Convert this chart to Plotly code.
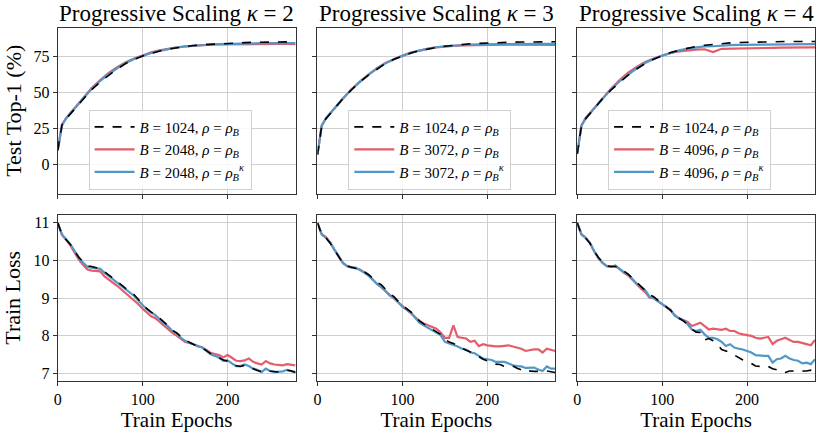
import plotly.graph_objects as go
from plotly.subplots import make_subplots

# epochs at which test accuracy / train loss were logged
acc_epochs = [0, 5] + list(range(10, 281, 10))
loss_epochs = list(range(0, 281, 5))

kappas = [2, 3, 4]
big_batches = [2048, 3072, 4096]

# test top-1 accuracy (%)
acc_k2_base = [10, 27.5, 32, 39, 46, 52.2, 57.5, 62.3, 66.5, 70.3, 73.2, 75.5, 77.5, 79, 80.3, 81.3, 82.1, 82.8, 83.3, 83.7, 84.1, 84.4, 84.6, 84.8, 85, 85.1, 85.2, 85.3, 85.3, 85.4]
acc_k2_rhoB = [10, 27.8, 32.5, 39.5, 47, 53.3, 58.8, 63.8, 67.8, 71.2, 73.8, 76, 78, 79.4, 80.6, 81.5, 82.2, 82.7, 83.1, 83.4, 83.6, 83.7, 83.8, 83.8, 83.9, 83.9, 83.8, 83.9, 83.9, 83.8]
acc_k2_rhoBk = [10, 27.6, 32.2, 39.2, 46.5, 52.8, 58.2, 63, 67, 70.6, 73.4, 75.6, 77.6, 79.1, 80.4, 81.4, 82.1, 82.7, 83.2, 83.5, 83.8, 84, 84.1, 84.2, 84.3, 84.4, 84.4, 84.5, 84.5, 84.5]

acc_k3_base = [7, 27, 32, 39, 46, 52, 57.5, 62.2, 66.5, 70.3, 73.2, 75.5, 77.6, 79.2, 80.5, 81.5, 82.3, 83, 83.5, 84, 84.3, 84.6, 84.8, 85, 85.1, 85.2, 85.3, 85.4, 85.4, 85.4]
acc_k3_rhoB = [7, 27.2, 32.3, 39.3, 46.3, 52.5, 58, 62.8, 67, 70.6, 73.4, 75.8, 77.9, 79.4, 80.6, 81.5, 82.2, 82.6, 82.9, 83.1, 83.2, 83.3, 83.3, 83.4, 83.4, 83.4, 83.4, 83.4, 83.3, 83.3]
acc_k3_rhoBk = [7, 27.1, 32.2, 39.2, 46.2, 52.3, 57.8, 62.6, 66.8, 70.4, 73.3, 75.6, 77.7, 79.3, 80.6, 81.6, 82.3, 82.8, 83.2, 83.4, 83.6, 83.7, 83.8, 83.8, 83.9, 83.9, 83.9, 84, 84, 84]

acc_k4_base = [7.5, 27, 32, 39, 46, 52, 57.5, 62.3, 66.5, 70.3, 73.3, 75.7, 77.9, 79.6, 81, 82.1, 83, 83.7, 84.2, 84.6, 84.9, 85.1, 85.3, 85.4, 85.5, 85.5, 85.6, 85.6, 85.6, 85.6]
acc_k4_rhoB = [7.5, 27.3, 32.5, 39.5, 46.5, 53, 58.8, 64, 68, 71.3, 73.8, 75.9, 77.6, 78.7, 79.4, 79.9, 80.2, 78.2, 80.5, 80.7, 80.8, 80.9, 81, 81.1, 81.2, 81.3, 81.3, 81.4, 81.4, 81.5]
acc_k4_rhoBk = [7.5, 27.1, 32.2, 39.2, 46.3, 52.5, 58, 62.8, 67, 70.6, 73.5, 75.8, 77.8, 79.4, 80.6, 81.5, 82.2, 82.3, 82.9, 83.1, 83.3, 83.4, 83.5, 83.6, 83.6, 83.7, 83.7, 83.8, 83.8, 83.8]

# train loss
loss_k2_base = [11.0, 10.68, 10.55, 10.42, 10.24, 10.08, 9.96, 9.86, 9.84, 9.81, 9.78, 9.70, 9.62, 9.53, 9.45, 9.35, 9.25, 9.17, 9.09, 8.96, 8.84, 8.72, 8.63, 8.57, 8.47, 8.38, 8.27, 8.15, 8.08, 7.98, 7.90, 7.83, 7.77, 7.73, 7.68, 7.61, 7.53, 7.48, 7.42, 7.36, 7.33, 7.27, 7.21, 7.19, 7.22, 7.18, 7.12, 7.08, 7.05, 7.10, 7.07, 7.05, 7.04, 7.06, 7.09, 7.07, 7.03]
loss_k2_rhoB = [11.0, 10.68, 10.54, 10.40, 10.20, 10.02, 9.88, 9.76, 9.73, 9.72, 9.71, 9.58, 9.50, 9.40, 9.33, 9.23, 9.13, 9.05, 8.95, 8.84, 8.72, 8.62, 8.52, 8.47, 8.37, 8.27, 8.18, 8.08, 8.01, 7.93, 7.84, 7.81, 7.78, 7.72, 7.70, 7.63, 7.55, 7.52, 7.49, 7.43, 7.49, 7.42, 7.34, 7.33, 7.35, 7.40, 7.31, 7.27, 7.24, 7.33, 7.27, 7.24, 7.22, 7.22, 7.25, 7.24, 7.22]
loss_k2_rhoBk = [11.0, 10.69, 10.56, 10.43, 10.25, 10.07, 9.94, 9.83, 9.81, 9.80, 9.78, 9.68, 9.59, 9.50, 9.43, 9.32, 9.23, 9.15, 9.06, 8.93, 8.82, 8.70, 8.62, 8.55, 8.44, 8.35, 8.25, 8.13, 8.07, 7.95, 7.87, 7.82, 7.78, 7.73, 7.69, 7.60, 7.51, 7.47, 7.42, 7.34, 7.35, 7.27, 7.20, 7.20, 7.24, 7.20, 7.13, 7.10, 7.04, 7.13, 7.07, 7.04, 7.04, 7.06, 7.10, 7.07, 7.04]

loss_k3_base = [11.0, 10.69, 10.60, 10.46, 10.28, 10.10, 9.93, 9.85, 9.82, 9.81, 9.76, 9.70, 9.63, 9.53, 9.42, 9.36, 9.25, 9.12, 9.04, 8.92, 8.80, 8.72, 8.64, 8.52, 8.40, 8.32, 8.25, 8.18, 8.12, 8.04, 7.91, 7.84, 7.80, 7.73, 7.67, 7.62, 7.58, 7.53, 7.45, 7.38, 7.34, 7.30, 7.25, 7.24, 7.19, 7.21, 7.20, 7.14, 7.10, 7.03, 7.07, 7.06, 7.05, 7.06, 7.07, 7.05, 7.03]
loss_k3_rhoB = [11.0, 10.70, 10.62, 10.48, 10.28, 10.10, 9.93, 9.85, 9.82, 9.81, 9.76, 9.69, 9.61, 9.49, 9.39, 9.30, 9.20, 9.08, 9.00, 8.88, 8.78, 8.70, 8.60, 8.50,
                8.40, 8.33, 8.28, 8.24, 8.19, 8.09, 7.95, 7.95, 8.28, 7.97, 7.95, 7.93, 7.84, 7.87, 7.73, 7.78, 7.75, 7.73, 7.72, 7.72, 7.73, 7.75, 7.72, 7.69, 7.66, 7.60, 7.63, 7.64, 7.64, 7.56, 7.66, 7.63, 7.60]
loss_k3_rhoBk = [11.0, 10.69, 10.60, 10.47, 10.29, 10.12, 9.94, 9.85, 9.81, 9.81, 9.75, 9.68, 9.60, 9.50, 9.37, 9.30, 9.19, 9.07, 9.01, 8.88, 8.77, 8.70, 8.62, 8.48, 8.35, 8.28, 8.22, 8.16, 8.09, 8.02, 7.84, 7.80, 7.77, 7.72, 7.66, 7.64, 7.56, 7.54, 7.47, 7.40, 7.38, 7.36, 7.31, 7.31, 7.31, 7.27, 7.22, 7.20, 7.19, 7.15, 7.16, 7.16, 7.11, 7.07, 7.19, 7.13, 7.13]

loss_k4_base = [11.0, 10.69, 10.59, 10.46, 10.25, 10.08, 9.95, 9.86, 9.84, 9.84, 9.79, 9.71, 9.64, 9.53, 9.42, 9.32, 9.22, 9.10, 9.04, 8.94, 8.85, 8.77, 8.68, 8.54, 8.48, 8.40, 8.30, 8.18, 8.10, 8.09, 7.89, 7.93, 7.87, 7.78, 7.64, 7.60, 7.56, 7.49, 7.42, 7.36, 7.31, 7.27, 7.20, 7.19, 7.22, 7.19, 7.13, 7.10, 7.03, 7.03, 7.07, 7.07, 7.04, 7.07, 7.07, 7.09, 7.03]
loss_k4_rhoB = [11.0, 10.70, 10.60, 10.46, 10.24, 10.06, 9.93, 9.85, 9.84, 9.85, 9.77, 9.67, 9.60, 9.48, 9.38, 9.26, 9.16, 9.02, 9.00, 8.92, 8.83, 8.75, 8.68, 8.55,
                8.46, 8.42, 8.37, 8.26, 8.31, 8.35, 8.26, 8.17, 8.19, 8.17, 8.16, 8.19, 8.13, 8.13, 8.07, 8.04, 8.02, 8.00, 7.95, 7.93, 7.95, 7.97, 7.78, 7.87, 7.91, 7.95, 7.89, 7.84, 7.84, 7.82, 7.78, 7.75, 7.89]
loss_k4_rhoBk = [11.0, 10.69, 10.60, 10.47, 10.25, 10.07, 9.94, 9.85, 9.83, 9.87, 9.78, 9.69, 9.63, 9.50, 9.39, 9.30, 9.22, 9.04, 9.01, 8.92, 8.84, 8.77, 8.69, 8.53, 8.48, 8.41, 8.31, 8.17, 8.13, 8.16, 8.04, 7.95, 7.95, 7.91, 7.84, 7.73, 7.78, 7.69, 7.66, 7.64, 7.60, 7.56, 7.49, 7.47, 7.47, 7.47, 7.29, 7.38, 7.40, 7.47, 7.40, 7.36, 7.34, 7.27, 7.29, 7.25, 7.38]

acc = [
    (acc_k2_base, acc_k2_rhoB, acc_k2_rhoBk),
    (acc_k3_base, acc_k3_rhoB, acc_k3_rhoBk),
    (acc_k4_base, acc_k4_rhoB, acc_k4_rhoBk),
]
loss = [
    (loss_k2_base, loss_k2_rhoB, loss_k2_rhoBk),
    (loss_k3_base, loss_k3_rhoB, loss_k3_rhoBk),
    (loss_k4_base, loss_k4_rhoB, loss_k4_rhoBk),
]

FONT = "Liberation Serif"
RED = "#E35D6A"
BLUE = "#5198C8"

W, H = 822, 435
xdom = [(54, 293), (315, 554), (576, 815)]
ydom_top = (28, 194)
ydom_bot = (215, 382)

fig = make_subplots(rows=2, cols=3)

for c in range(3):
    names = [
        "<i>B</i> = 1024, <i>ρ</i> = <i>ρ<sub>B</sub></i>",
        "<i>B</i> = %d, <i>ρ</i> = <i>ρ<sub>B</sub></i>" % big_batches[c],
        "<i>B</i> = %d, <i>ρ</i> = <i>ρ<sub>B</sub><sup>κ</sup></i>" % big_batches[c],
    ]
    styles = [dict(color="black", width=1.6, dash="dash"),
              dict(color=RED, width=2.2),
              dict(color=BLUE, width=2.2)]
    leg = "legend" if c == 0 else "legend%d" % (c + 1)
    # dashed baseline drawn last so it sits on top
    for i in [1, 2, 0]:
        fig.add_trace(go.Scatter(x=acc_epochs, y=acc[c][i], mode="lines", name=names[i],
                                 line=styles[i], legend=leg, legendrank=i + 1),
                      row=1, col=c + 1)
        fig.add_trace(go.Scatter(x=loss_epochs, y=loss[c][i], mode="lines", name=names[i],
                                 line=styles[i], showlegend=False),
                      row=2, col=c + 1)

tick_font = dict(family=FONT, size=16, color="black")
axis_common = dict(showline=True, mirror=True, linecolor="#333", linewidth=1,
                   showgrid=True, gridcolor="#cfcfcf", gridwidth=1,
                   ticks="outside", ticklen=4, tickcolor="#333", zeroline=False)

for c in range(3):
    x0, x1 = xdom[c]
    for r, (yt, yb) in enumerate([ydom_top, ydom_bot]):
        fig.update_xaxes(axis_common, domain=[x0 / W, x1 / W], range=[0, 280],
                         tickvals=[0, 100, 200], showticklabels=(r == 1),
                         tickfont=tick_font, row=r + 1, col=c + 1)
        fig.update_yaxes(axis_common, domain=[1 - yb / H, 1 - yt / H],
                         showticklabels=(c == 0), tickfont=tick_font,
                         row=r + 1, col=c + 1)
    fig.update_yaxes(range=[-20, 95], tickvals=[0, 25, 50, 75], row=1, col=c + 1)
    fig.update_yaxes(range=[6.8, 11.22], tickvals=[7, 8, 9, 10, 11], row=2, col=c + 1)
    fig.update_xaxes(title=dict(text="Train Epochs", standoff=2,
                                font=dict(family=FONT, size=21, color="black")),
                     row=2, col=c + 1)

fig.update_yaxes(title=dict(text="Test Top-1 (%)", standoff=5,
                            font=dict(family=FONT, size=22, color="black")), row=1, col=1)
fig.update_yaxes(title=dict(text="Train Loss", standoff=9,
                            font=dict(family=FONT, size=22, color="black")), row=2, col=1)

for c in range(3):
    x0, x1 = xdom[c]
    fig.add_annotation(text="Progressive Scaling <i>κ</i> = %d" % kappas[c],
                       xref="paper", yref="paper", x=(x0 + x1) / 2 / W, y=1 - 14 / H,
                       xanchor="center", yanchor="middle", showarrow=False,
                       font=dict(family=FONT, size=23, color="black"))

legend_x = [85, 346, 607]
legend_style = dict(y=1 - 150 / H, xanchor="left", yanchor="middle",
                    bgcolor="rgba(255,255,255,0.85)", bordercolor="#d0d0d0", borderwidth=1,
                    font=dict(family=FONT, size=15, color="black"),
                    tracegroupgap=0, itemwidth=40)
fig.update_layout(
    legend=dict(legend_style, x=legend_x[0] / W),
    legend2=dict(legend_style, x=legend_x[1] / W),
    legend3=dict(legend_style, x=legend_x[2] / W),
)

fig.update_layout(width=W, height=H, margin=dict(l=0, r=0, t=0, b=0),
                  paper_bgcolor="white", plot_bgcolor="white",
                  font=dict(family=FONT, color="black"))

# drop the browser's default 8px body margin so the figure fills the window
fig.write_html("out.html", config={"displayModeBar": False},
               post_script="document.body.style.margin='0';")
